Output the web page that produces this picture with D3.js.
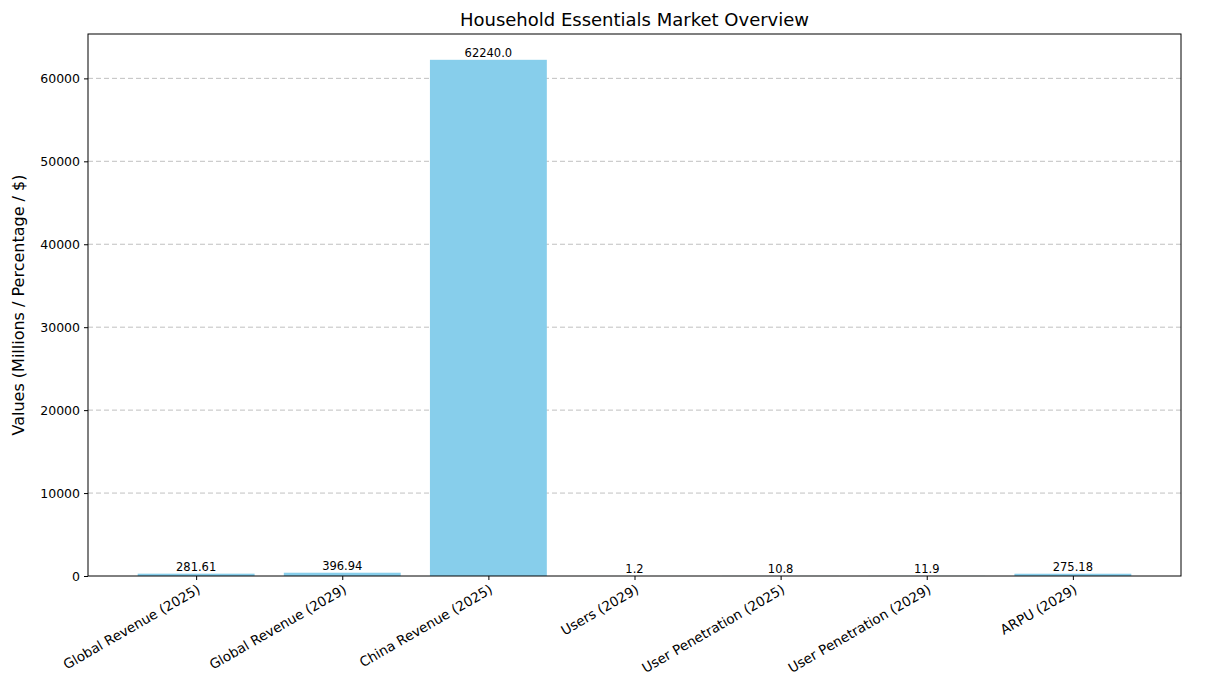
<!DOCTYPE html>
<html><head><meta charset="utf-8">
<script src="https://cdn.jsdelivr.net/npm/d3@7"></script>
<style>body{margin:0;background:#fff;font-family:"DejaVu Sans",sans-serif}</style>
</head><body><svg id="c" width="1209" height="685"></svg>
<script>
var categories = ["Global Revenue (2025)", "Global Revenue (2029)", "China Revenue (2025)",
  "Users (2029)", "User Penetration (2025)", "User Penetration (2029)", "ARPU (2029)"];
var values = [281.61, 396.94, 62240.0, 1.2, 10.8, 11.9, 275.18];
var valueLabels = ["281.61", "396.94", "62240.0", "1.2", "10.8", "11.9", "275.18"];
var yTicks = [0, 10000, 20000, 30000, 40000, 50000, 60000];

var svg = d3.select("#c");
var m = {l: 88, r: 1181, t: 34, b: 576};
var x = d3.scaleLinear().domain([-0.74, 6.74]).range([m.l, m.r]);
var y = d3.scaleLinear().domain([0, 62240 * 1.05]).range([m.b, m.t]);

// grid
svg.append("g").selectAll("line").data(yTicks.slice(1)).enter().append("line")
  .attr("x1", m.l).attr("x2", m.r).attr("y1", d => y(d)).attr("y2", d => y(d))
  .attr("stroke", "#a0a0a0").attr("stroke-dasharray", "5,3").attr("stroke-width", 0.8).attr("opacity", 0.8);

svg.append("g").selectAll("rect").data(values).enter().append("rect")
  .attr("x", (d, i) => x(i - 0.4)).attr("width", x(0.8) - x(0))
  .attr("y", d => y(d)).attr("height", d => m.b - y(d)).attr("fill", "#87ceeb");

svg.append("g").selectAll("text").data(values).enter().append("text")
  .attr("x", (d, i) => x(i)).attr("y", d => y(d) - 3).attr("text-anchor", "middle")
  .attr("font-size", 11.5).text((d, i) => valueLabels[i]);

svg.append("rect").attr("x", m.l).attr("y", m.t).attr("width", m.r - m.l).attr("height", m.b - m.t)
  .attr("fill", "none").attr("stroke", "#000").attr("stroke-width", 1);

var ya = svg.append("g").attr("transform", "translate(" + m.l + ",0)")
  .call(d3.axisLeft(y).tickValues(yTicks).tickFormat(d3.format("d")).tickSize(4).tickPadding(4));
ya.select(".domain").remove();
ya.selectAll("text").attr("font-size", 12.5).attr("font-family", "DejaVu Sans");

var xa = svg.append("g").attr("transform", "translate(0," + m.b + ")")
  .call(d3.axisBottom(x).tickValues(d3.range(categories.length)).tickFormat(i => categories[i]).tickSize(4));
xa.select(".domain").remove();
xa.selectAll("text").attr("font-size", 13.5).attr("font-family", "DejaVu Sans")
  .attr("text-anchor", "end").attr("y", 0).attr("dy", "0.7em")
  .attr("transform", "translate(0,8) rotate(-30)");

svg.append("text").attr("x", (m.l + m.r) / 2).attr("y", 26).attr("text-anchor", "middle")
  .attr("font-size", 18).text("Household Essentials Market Overview");
svg.append("text").attr("transform", "translate(24," + (m.t + m.b) / 2 + ") rotate(-90)")
  .attr("text-anchor", "middle").attr("font-size", 16).text("Values (Millions / Percentage / $)");
</script></body></html>
